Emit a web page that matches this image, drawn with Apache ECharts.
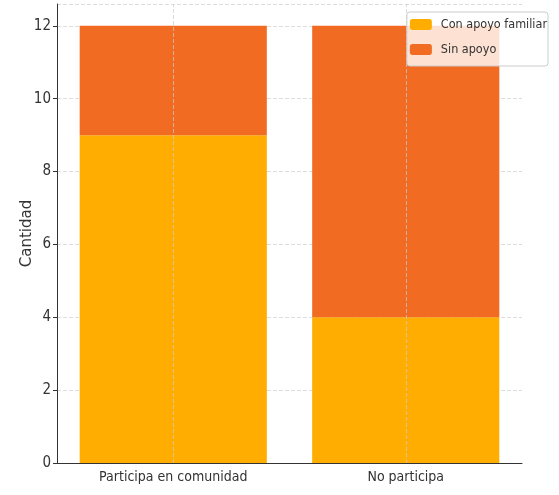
<!DOCTYPE html>
<html><head><meta charset="utf-8">
<script src="https://cdn.jsdelivr.net/npm/echarts@6/dist/echarts.min.js"></script>
<style>html,body{margin:0;padding:0;background:#fff}#c{width:559px;height:495px}</style>
</head><body><div id="c"></div>
<script>
var categories = ['Participa en comunidad', 'No participa'];
var conApoyo = [9, 4];
var sinApoyo = [3, 8];
var seriesNames = ['Con apoyo familiar', 'Sin apoyo'];

var font = '"DejaVu Sans Condensed", "DejaVu Sans", sans-serif';
var chart = echarts.init(document.getElementById('c'));
chart.setOption({
  animation: false,
  textStyle: {fontFamily: font},
  grid: {left: 57, right: 37, top: 4, bottom: 32},
  legend: {
    right: 11, top: 12, orient: 'vertical', itemWidth: 22, itemHeight: 11, itemGap: 12,
    padding: [6, 1, 10, 3],
    backgroundColor: 'rgba(255,255,255,0.8)', borderColor: '#ccc', borderWidth: 1, borderRadius: 3,
    textStyle: {fontFamily: font, fontSize: 12.5, color: '#333', padding: [0, 0, 0, 4]},
    data: seriesNames
  },
  xAxis: {
    type: 'category', data: categories,
    axisLine: {lineStyle: {color: '#333', width: 1}},
    axisTick: {alignWithLabel: true, length: 4, lineStyle: {color: '#333'}},
    axisLabel: {fontFamily: font, fontSize: 14, color: '#333', margin: 7},
    splitLine: {show: false}
  },
  yAxis: {
    type: 'value', min: 0, max: 12.6, interval: 2,
    name: 'Cantidad', nameLocation: 'middle', nameGap: 22, nameMoveOverlap: false,
    nameTextStyle: {fontFamily: 'DejaVu Sans, sans-serif', fontSize: 15, color: '#333'},
    axisLine: {show: true, lineStyle: {color: '#333', width: 1}},
    axisTick: {show: true, length: 4, lineStyle: {color: '#333'}},
    axisLabel: {fontFamily: font, fontSize: 15, color: '#333', margin: 6, showMaxLabel: false},
    splitLine: {lineStyle: {color: '#ddd', type: 'dashed', width: 1}}
  },
  series: [
    {name: seriesNames[0], type: 'bar', stack: 's', data: conApoyo, barWidth: '80.5%',
     itemStyle: {color: '#FFAD00'},
     markLine: {silent: true, symbol: 'none', label: {show: false},
       lineStyle: {color: '#ccc', type: 'dashed', width: 1, opacity: 0.7},
       data: categories.map(function(c){return {xAxis: c};})},
     z: 2},
    {name: seriesNames[1], type: 'bar', stack: 's', data: sinApoyo, barWidth: '80.5%',
     itemStyle: {color: '#F26B22'}, z: 2}
  ]
});
</script></body></html>
